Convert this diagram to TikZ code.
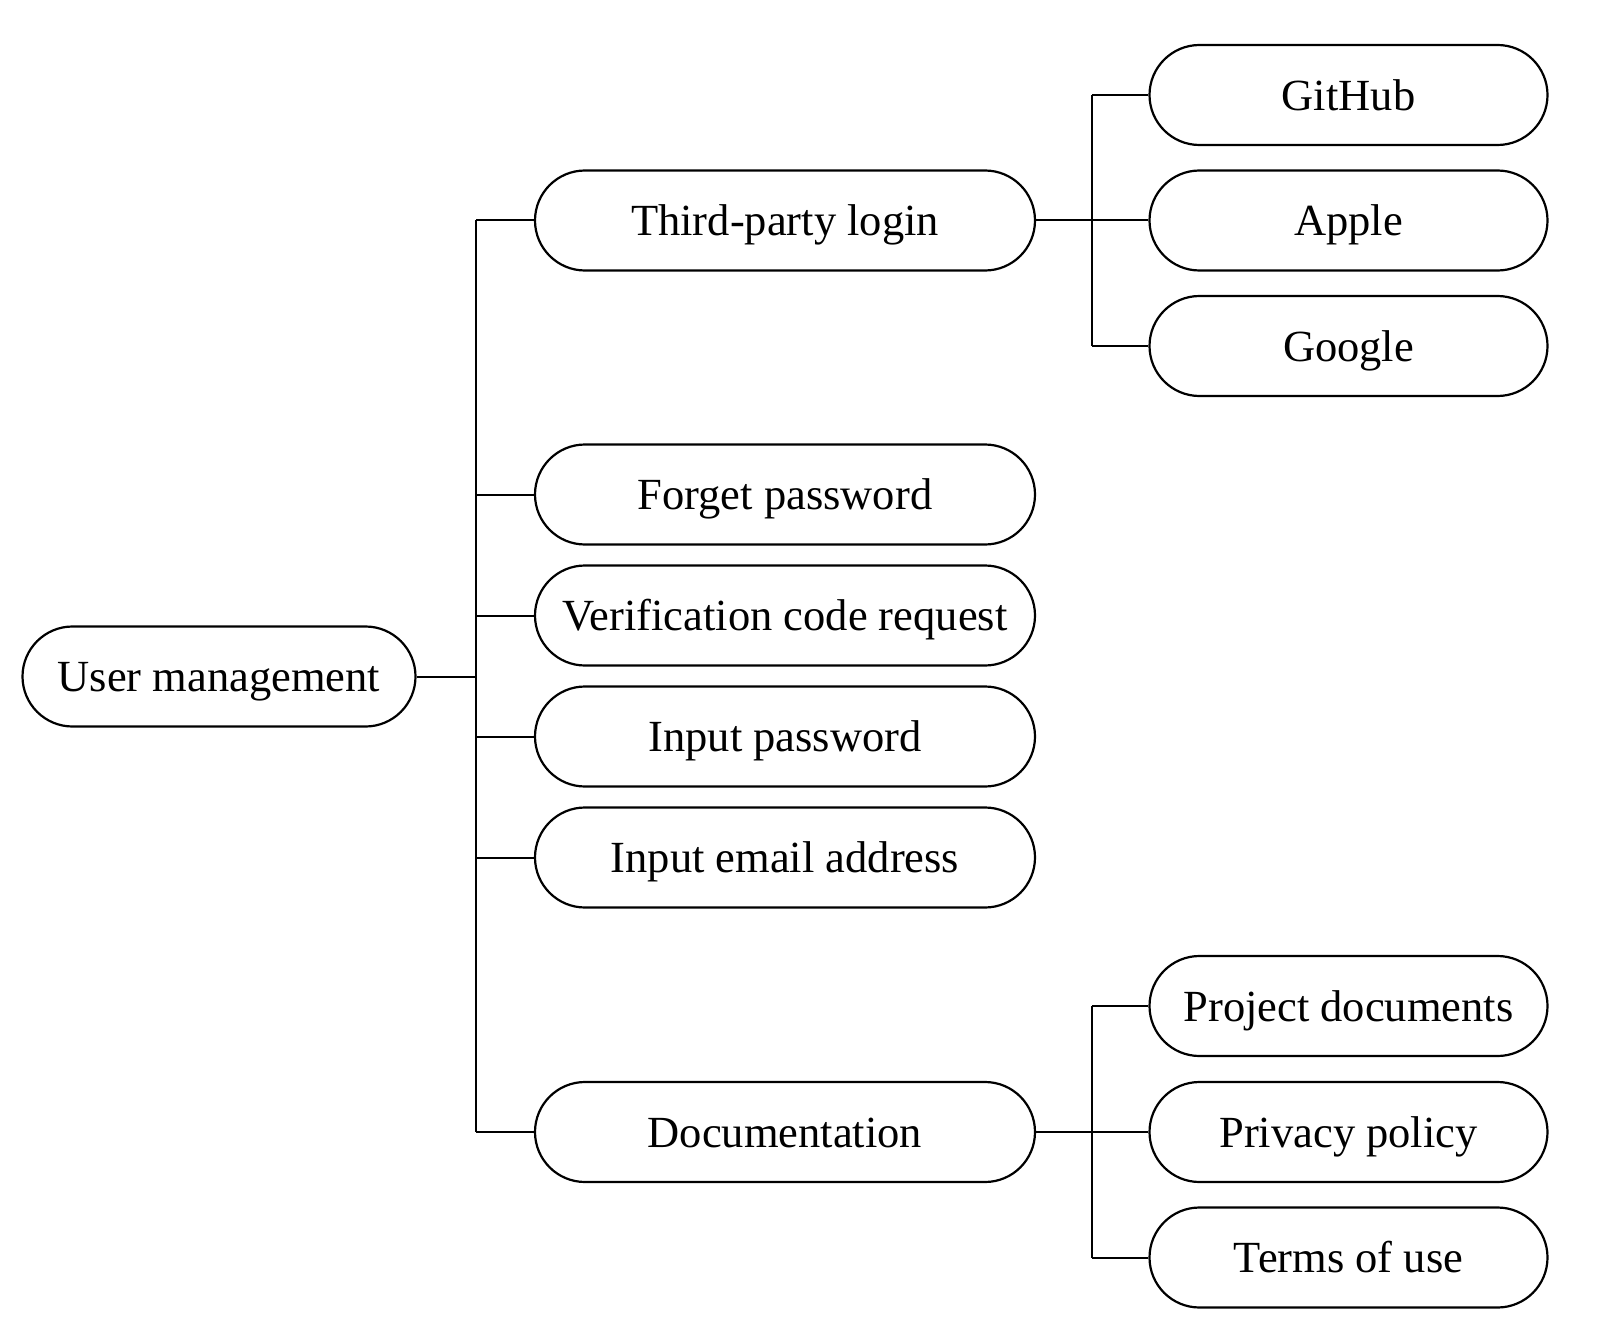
\documentclass[tikz,border=0pt]{standalone}
\usepackage{fontspec}
\setmainfont{Liberation Serif}
\begin{document}
\begin{tikzpicture}[x=1pt,y=-1pt,
  pill/.style={draw=black, line width=2.2pt, rounded corners=50pt, minimum height=100pt, inner sep=0pt,
    font=\fontsize{44.5}{50}\selectfont, text height=39.65pt, text depth=9.6pt, fill=white},
  rootbox/.style={pill, minimum width=393pt},
  midbox/.style={pill, minimum width=500pt},
  leafbox/.style={pill, minimum width=398pt},
  conn/.style={draw=black, line width=2pt}]
\useasboundingbox (0,0) rectangle (1604,1343);
\fill[white] (0,0) rectangle (1604,1343);
\node[rootbox] (um) at (219,676.5) {User management};
\node[midbox] (tpl) at (785,220.5) {Third-party login};
\node[midbox] (fp) at (785,494.5) {Forget password};
\node[midbox] (vcr) at (785,615.5) {Verification code request};
\node[midbox] (ip) at (785,736.5) {Input password};
\node[midbox] (iea) at (785,857.5) {Input email address};
\node[midbox] (doc) at (785,1132) {Documentation};
\node[leafbox] (gh) at (1348.5,95) {GitHub};
\node[leafbox] (ap) at (1348.5,220.5) {Apple};
\node[leafbox] (go) at (1348.5,346) {Google};
\node[leafbox] (pd) at (1348.5,1006) {Project documents};
\node[leafbox] (pp) at (1348.5,1132) {Privacy policy};
\node[leafbox] (tu) at (1348.5,1257.5) {Terms of use};
\coordinate (t1) at (476,676.5);
\coordinate (t2) at (1092,220.5);
\coordinate (t3) at (1092,1132);
\draw[conn] (um.east) -- (t1);
\draw[conn] (t1 |- tpl.west) -- (t1 |- doc.west);
\foreach \n in {tpl,fp,vcr,ip,iea,doc} \draw[conn] (t1 |- \n.west) -- (\n.west);
\draw[conn] (tpl.east) -- (ap.west);
\draw[conn] (t2 |- gh.west) -- (t2 |- go.west);
\draw[conn] (t2 |- gh.west) -- (gh.west);
\draw[conn] (t2 |- go.west) -- (go.west);
\draw[conn] (doc.east) -- (pp.west);
\draw[conn] (t3 |- pd.west) -- (t3 |- tu.west);
\draw[conn] (t3 |- pd.west) -- (pd.west);
\draw[conn] (t3 |- tu.west) -- (tu.west);
\end{tikzpicture}
\end{document}
